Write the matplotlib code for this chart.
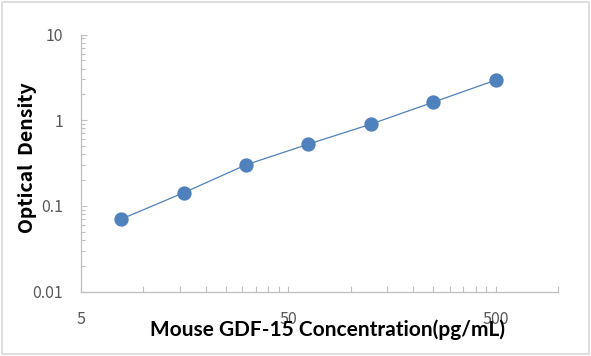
import matplotlib
matplotlib.use("Agg")
import matplotlib.pyplot as plt
from matplotlib.ticker import FixedLocator, NullFormatter, LogLocator
from matplotlib.patches import Rectangle

# standard curve
conc = [7.8125, 15.625, 31.25, 62.5, 125, 250, 500]
od = [0.070, 0.142, 0.301, 0.525, 0.898, 1.62, 2.93]
x_ticks = [5, 50, 500]
x_labels = ["5", "50", "500"]
y_ticks = [0.01, 0.1, 1, 10]
y_labels = ["0.01", "0.1", "1", "10"]

blue = "#4F81BD"
axis_grey = "#BFBFBF"
text_grey = "#595959"

fig = plt.figure(figsize=(5.91, 3.56), dpi=100)
ax = fig.add_axes([81 / 591, 1 - 291.5 / 356, 477 / 591, 257 / 356])

ax.plot(conc, od, color=blue, lw=0.9, marker="o", ms=9.3,
        markerfacecolor=blue, markeredgecolor=blue, zorder=3)

ax.set_xscale("log")
ax.set_yscale("log")
ax.set_xlim(5, 1000)
ax.set_ylim(0.01, 10)

ax.xaxis.set_major_locator(FixedLocator(x_ticks))
ax.set_xticklabels(x_labels)
# excel style minor ticks: multiples of 5 within each decade
ax.xaxis.set_minor_locator(FixedLocator([10, 15, 20, 25, 30, 35, 40, 45,
                                         100, 150, 200, 250, 300, 350, 400, 450, 1000]))
ax.xaxis.set_minor_formatter(NullFormatter())
ax.yaxis.set_major_locator(FixedLocator(y_ticks))
ax.set_yticklabels(y_labels)
ax.yaxis.set_minor_locator(LogLocator(base=10, subs=range(2, 10)))
ax.yaxis.set_minor_formatter(NullFormatter())

for s in ["top", "right"]:
    ax.spines[s].set_visible(False)
for s in ["left", "bottom"]:
    ax.spines[s].set_color(axis_grey)
    ax.spines[s].set_linewidth(0.9)

ax.tick_params(which="both", direction="in", color=axis_grey, width=0.8)
ax.tick_params(axis="y", which="major", length=4.5, pad=13)
ax.tick_params(axis="y", which="minor", length=3)
ax.tick_params(axis="x", which="both", length=4, pad=14)
for lab in ax.get_xticklabels() + ax.get_yticklabels():
    lab.set_fontfamily("Noto Sans CJK KR")
    lab.set_fontsize(11.5)
    lab.set_color(text_grey)

ax.set_xlabel("Mouse GDF-15 Concentration(pg/mL)", fontsize=15, fontweight="bold",
              family="Lato", color="black", va="center")
ax.xaxis.set_label_coords(0.516, -0.148)
ax.set_ylabel("Optical  Density", fontsize=14, fontweight="bold",
              family="Noto Sans CJK KR", color="black", va="center")
ax.yaxis.set_label_coords(-0.113, 0.521)

fig.patches.append(Rectangle((2 / 591, 2 / 356), 587 / 591, 352 / 356,
                             transform=fig.transFigure, fill=False,
                             edgecolor="#D9D9D9", lw=1.2))

fig.savefig("out.png", dpi=100)
